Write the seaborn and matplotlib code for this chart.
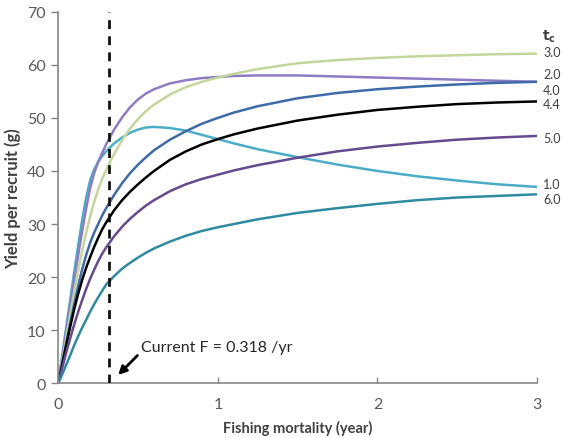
import numpy as np
import pandas as pd
import matplotlib
matplotlib.use("Agg")
import matplotlib.pyplot as plt
import seaborn as sns

# ---- data ----
F = [0, 0.025, 0.05, 0.075, 0.1, 0.125, 0.15, 0.175, 0.2, 0.225, 0.25, 0.275, 0.3, 0.35, 0.4, 0.45,
     0.5, 0.55, 0.6, 0.7, 0.8, 0.9, 1.0, 1.1, 1.25, 1.5, 1.75, 2.0, 2.25, 2.5, 2.75, 3.0]
tc_labels = ["1.0", "2.0", "3.0", "4.0", "4.4", "5.0", "6.0"]
ypr_tc10 = [0, 5.3, 10.6, 15.8, 21.0, 26.0, 30.8, 35.0, 38.3, 40.3, 41.7, 42.8, 43.7, 45.2, 46.3, 47.2,
            47.8, 48.2, 48.3, 48.1, 47.6, 46.8, 46.0, 45.2, 44.1, 42.6, 41.2, 40.0, 39.0, 38.2, 37.5, 37.0]
ypr_tc20 = [0, 4.9, 9.8, 14.7, 19.5, 24.2, 28.7, 33.0, 36.8, 39.6, 41.7, 43.4, 45.0, 47.8, 50.1, 52.0,
            53.5, 54.6, 55.4, 56.5, 57.1, 57.5, 57.7, 57.9, 58.0, 58.0, 57.8, 57.6, 57.4, 57.2, 57.0, 56.8]
ypr_tc30 = [0, 4.3, 8.6, 12.9, 17.2, 21.3, 25.0, 28.4, 31.5, 34.2, 36.5, 38.5, 40.2, 43.2, 45.8, 48.0,
            49.8, 51.3, 52.5, 54.4, 55.8, 56.8, 57.6, 58.3, 59.2, 60.3, 60.9, 61.3, 61.6, 61.8, 62.0, 62.1]
ypr_tc40 = [0, 3.8, 7.6, 11.3, 15.0, 18.4, 21.5, 24.2, 26.5, 28.4, 30.0, 31.6, 33.0, 35.5, 37.7, 39.6,
            41.2, 42.6, 43.9, 45.9, 47.5, 48.9, 50.0, 51.0, 52.2, 53.7, 54.7, 55.4, 55.9, 56.3, 56.6, 56.8]
ypr_tc44 = [0, 3.6, 7.2, 10.7, 14.0, 16.9, 19.5, 21.8, 23.8, 25.7, 27.4, 29.0, 30.3, 32.6, 34.5, 36.1,
            37.5, 38.8, 40.0, 42.1, 43.7, 45.0, 46.0, 46.9, 48.0, 49.5, 50.6, 51.5, 52.1, 52.6, 52.9, 53.1]
ypr_tc50 = [0, 2.9, 5.8, 8.5, 11.1, 13.5, 15.7, 17.8, 19.7, 21.4, 23.0, 24.4, 25.6, 27.7, 29.5, 31.0,
            32.3, 33.5, 34.5, 36.2, 37.5, 38.5, 39.3, 40.1, 41.1, 42.5, 43.7, 44.6, 45.3, 45.9, 46.3, 46.6]
ypr_tc60 = [0, 1.7, 3.5, 5.3, 7.2, 8.9, 10.5, 12.0, 13.5, 14.9, 16.2, 17.4, 18.6, 20.2, 21.6, 22.7,
            23.7, 24.6, 25.4, 26.7, 27.8, 28.7, 29.4, 30.0, 30.9, 32.1, 33.0, 33.8, 34.5, 35.0, 35.3, 35.6]
current_F = 0.318
x_ticks = [0, 1, 2, 3]
y_ticks = [0, 10, 20, 30, 40, 50, 60, 70]

series = [ypr_tc10, ypr_tc20, ypr_tc30, ypr_tc40, ypr_tc44, ypr_tc50, ypr_tc60]
df = pd.concat(
    [pd.DataFrame({"F": F, "YPR": s, "tc": lab}) for lab, s in zip(tc_labels, series)],
    ignore_index=True,
)

# ---- styles ----
palette = {
    "1.0": "#4BACC6",
    "2.0": "#8E7CC3",
    "3.0": "#C3D69B",
    "4.0": "#3E6BA8",
    "4.4": "#000000",
    "5.0": "#654A8E",
    "6.0": "#2F8BA0",
}
# vertical offsets of right-hand labels (data units) to avoid overlap
label_offsets = {"1.0": 0.5, "2.0": 1.4, "3.0": 0.3, "4.0": -1.6, "4.4": -0.5, "5.0": -0.4, "6.0": -0.9}

sns.set_theme(style="white")
plt.rcParams["font.family"] = ["Lato", "DejaVu Sans"]

fig = plt.figure(figsize=(5.62, 4.39), dpi=100)
ax = fig.add_axes([0.1037, 0.1246, 0.8518, 0.8464])

sns.lineplot(data=df, x="F", y="YPR", hue="tc", palette=palette, hue_order=tc_labels,
             linewidth=1.8, legend=False, ax=ax)

ax.axvline(current_F, color="#111111", lw=2.0, ls=(0, (3.2, 2.6)), zorder=5)

ax.set_xlim(0, 3)
ax.set_ylim(0, 70)
ax.set_xticks(x_ticks)
ax.set_yticks(y_ticks)
ax.set_xticklabels([str(t) for t in x_ticks])
ax.set_yticklabels([str(t) for t in y_ticks])

for s in ["top", "right"]:
    ax.spines[s].set_visible(False)
for s in ["left", "bottom"]:
    ax.spines[s].set_color("#868686")
    ax.spines[s].set_linewidth(1.2)

ax.tick_params(axis="y", direction="out", length=5, width=1, color="#868686",
               labelsize=11.5, labelcolor="#595959", pad=4, left=True)
ax.tick_params(axis="x", direction="in", length=4, width=1, color="#868686",
               labelsize=11.5, labelcolor="#595959", pad=10, bottom=True)

ax.set_xlabel("Fishing mortality (year)", fontsize=10.5, fontweight="bold", color="#404040", labelpad=6)
ax.set_ylabel("Yield per recruit (g)", fontsize=12, fontweight="bold", color="#404040", labelpad=4)

# right-hand tc labels
for lab, s in zip(tc_labels, series):
    ax.text(1.013, s[-1] + label_offsets[lab], lab, transform=ax.get_yaxis_transform(),
            fontsize=9, color="#404040", va="center", ha="left", clip_on=False)
ax.text(1.01, 65.4, r"$\mathbf{t_c}$", transform=ax.get_yaxis_transform(),
        fontsize=10, color="#404040", va="center", ha="left", clip_on=False)

# annotation for current F
ax.annotate("", xy=(current_F + 0.045, 1.2), xytext=(current_F + 0.19, 5.6),
            arrowprops=dict(arrowstyle="-|>", color="black", lw=2, mutation_scale=12))
ax.text(0.52, 6.9, "Current F = 0.318 /yr", fontsize=11.5, color="#262626",
        va="center", ha="left")

fig.savefig("out.png", dpi=100)
